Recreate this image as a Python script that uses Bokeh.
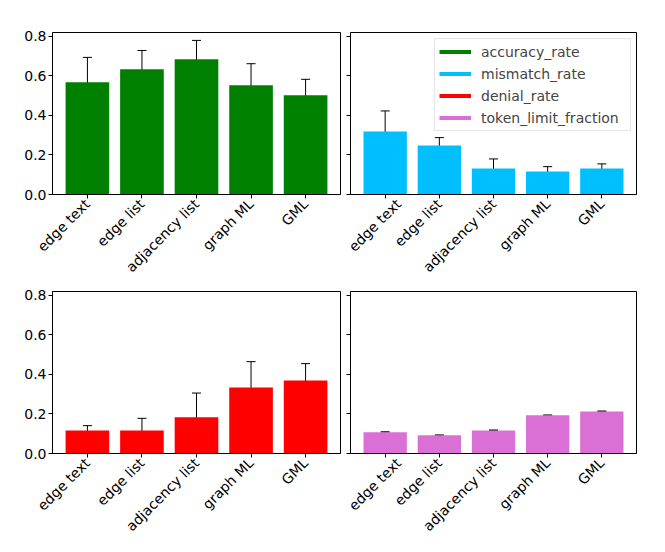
import math
from bokeh.plotting import figure
from bokeh.models import (ColumnDataSource, Whisker, TeeHead, FactorRange, Range1d,
                          FixedTicker, PrintfTickFormatter, Legend, LegendItem,
                          CustomJSTickFormatter)
from bokeh.layouts import gridplot
from bokeh.embed import file_html
from bokeh.resources import INLINE

categories = ["edge text", "edge list", "adjacency list", "graph ML", "GML"]
accuracy_rate = [0.568, 0.634, 0.685, 0.553, 0.502]
accuracy_err = [0.126, 0.095, 0.095, 0.109, 0.081]
mismatch_rate = [0.319, 0.248, 0.132, 0.116, 0.132]
mismatch_err = [0.104, 0.040, 0.048, 0.025, 0.023]
denial_rate = [0.117, 0.117, 0.183, 0.334, 0.369]
denial_err = [0.024, 0.061, 0.123, 0.131, 0.086]
token_limit_fraction = [0.107, 0.092, 0.117, 0.193, 0.213]
token_limit_err = [0.003, 0.002, 0.002, 0.002, 0.002]
y_ticks = [0.0, 0.2, 0.4, 0.6, 0.8]
series_names = ["accuracy_rate", "mismatch_rate", "denial_rate", "token_limit_fraction"]
series_colors = ["#008000", "#00BFFF", "#FF0000", "#DA70D6"]

FONT = "DejaVu Sans"
FS = 14


def panel(values, errs, color, left_col, top_row):
    p = figure(
        x_range=FactorRange(*categories, range_padding=0.056),
        y_range=Range1d(0, 0.82),
        frame_width=288 if left_col else 286,
        frame_height=162,
        min_border_left=52 if left_col else 5,
        min_border_right=5 if left_col else 15,
        min_border_top=32 if top_row else 8,
        min_border_bottom=86 if top_row else 84,
        output_backend="svg",
        toolbar_location=None,
    )
    src = ColumnDataSource(dict(
        x=categories,
        top=values,
        upper=[v + e for v, e in zip(values, errs)],
        lower=[v - e for v, e in zip(values, errs)],
    ))
    p.vbar(x="x", top="top", width=0.8, source=src, fill_color=color, line_color=None)
    w = Whisker(source=src, base="x", upper="upper", lower="lower",
                line_color="black", line_width=1,
                upper_head=TeeHead(size=9, line_color="black", line_width=1),
                lower_head=TeeHead(size=9, line_color="black", line_width=1))
    p.add_layout(w)
    p.xgrid.grid_line_color = None
    p.ygrid.grid_line_color = None
    p.outline_line_color = "black"
    p.outline_line_alpha = 1
    p.outline_line_width = 1
    p.background_fill_color = "white"
    p.border_fill_color = "white"
    for ax in (p.xaxis[0], p.yaxis[0]):
        ax.axis_line_color = "black"
        ax.major_tick_line_color = "black"
        ax.major_tick_in = 0
        ax.major_tick_out = 4
        ax.minor_tick_line_color = None
        ax.major_label_text_font = FONT
        ax.major_label_text_font_size = f"{FS}px"
        ax.major_label_text_color = "black"
    p.yaxis.ticker = FixedTicker(ticks=y_ticks)
    p.yaxis.formatter = PrintfTickFormatter(format="%.1f")
    p.yaxis.major_label_standoff = 2
    if not left_col:
        p.yaxis.formatter = CustomJSTickFormatter(code="return ''")
        p.yaxis.major_label_text_color = None
        p.yaxis.major_label_standoff = 0
    p.xaxis.major_label_orientation = math.pi / 4
    p.xaxis.major_label_standoff = 3
    return p, src


p1, s1 = panel(accuracy_rate, accuracy_err, series_colors[0], True, True)
p2, s2 = panel(mismatch_rate, mismatch_err, series_colors[1], False, True)
p3, s3 = panel(denial_rate, denial_err, series_colors[2], True, False)
p4, s4 = panel(token_limit_fraction, token_limit_err, series_colors[3], False, False)

items = []
for name, col in zip(series_names, series_colors):
    # zero-length segments: invisible in the plot, but give the legend a line glyph
    r = p2.segment(x0="x", y0="top", x1="x", y1="top", source=s2,
                   line_color=col, line_width=4, line_cap="butt")
    items.append(LegendItem(label=name, renderers=[r]))
legend = Legend(items=items, location=(84, 63),
                label_text_font=FONT, label_text_font_size=f"{FS}px",
                glyph_width=32, glyph_height=17, label_height=17, label_width=145,
                spacing=5, padding=4, label_standoff=10, margin=0,
                border_line_color="#cccccc", border_line_width=1,
                background_fill_color="white", background_fill_alpha=0.8)
p2.add_layout(legend)

grid = gridplot([[p1, p2], [p3, p4]], toolbar_location=None)

open("out.html", "w").write(file_html(grid, INLINE))
